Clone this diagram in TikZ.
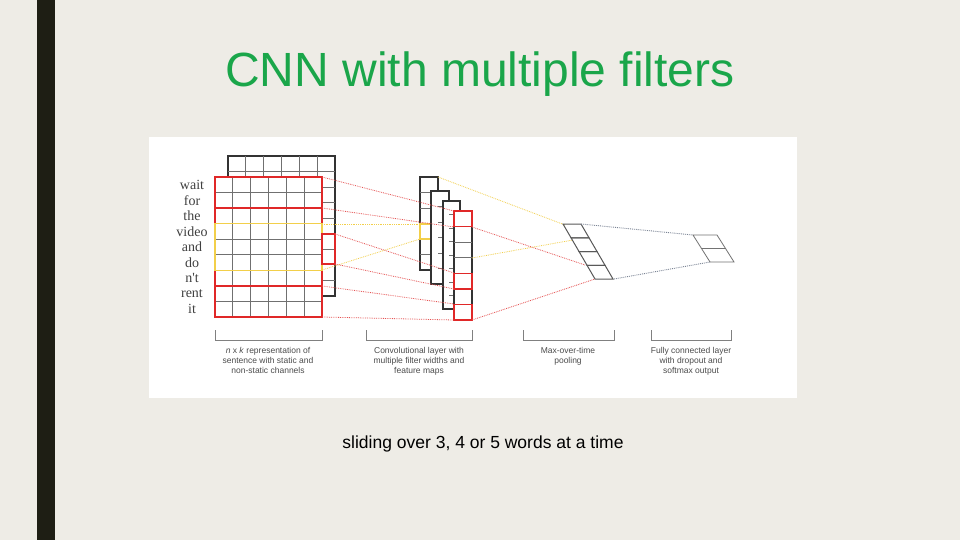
\documentclass[tikz,border=0pt]{standalone}
\usepackage{fontspec}
\setmainfont{Liberation Sans}
\newfontfamily\wordfont{Liberation Serif}
\definecolor{slidebg}{HTML}{EEECE6}
\definecolor{barcol}{HTML}{1E1E14}
\definecolor{titlegreen}{HTML}{1AA64A}
\definecolor{gridgray}{HTML}{707070}
\definecolor{filtred}{HTML}{E02828}
\definecolor{filtyellow}{HTML}{F2CF4A}
\definecolor{fcline}{HTML}{7A8494}
\tikzset{
  cell/.style={draw=gridgray, line width=0.8pt},
  frame/.style={draw=black!80, line width=1.2pt, fill=white},
  redbox/.style={draw=filtred, line width=1.4pt},
  yellowbox/.style={draw=filtyellow, line width=1.4pt},
  reddot/.style={filtred!80, densely dotted, line width=0.8pt},
  yellowdot/.style={filtyellow, densely dotted, line width=0.8pt},
  graydot/.style={fcline, densely dotted, line width=0.9pt},
  bracket/.style={draw=gray, line width=0.9pt},
  caption/.style={text=black!70, font=\fontsize{8.5}{10}\selectfont, align=center, anchor=north},
  word/.style={text=black!75, font=\wordfont\fontsize{14}{14}\selectfont}
}
\begin{document}
\begin{tikzpicture}[x=1pt,y=-1pt]
\useasboundingbox (0,0) rectangle (960,540);

% Slide
\fill[slidebg] (0,0) rectangle (960,540);
\fill[barcol] (37,0) rectangle (55,540);
\node (title) at (480,74) {\fontsize{48}{48}\selectfont\textcolor{titlegreen}{CNN with multiple filters}};
\fill[white] (149,137) rectangle (797,398);

% Back channel
\draw[frame] (228,156) rectangle (335,296);
\foreach \i in {1,...,5} \draw[cell] (228+\i*17.83,156) -- (228+\i*17.83,177);
\foreach \j in {1,...,8} \draw[cell] (322,156+\j*15.55) -- (335,156+\j*15.55);
\draw[cell] (228,171) -- (322,171);

% Front channel
\fill[white] (215,177) rectangle (322,317);
\foreach \i in {1,...,5} \draw[cell] (215+\i*17.83,177) -- (215+\i*17.83,317);
\foreach \j in {1,...,8} \draw[cell] (215,177+\j*15.55) -- (322,177+\j*15.55);
\draw[redbox] (215,177) rectangle (322,317);
\draw[redbox] (215,208.1) -- (322,208.1);
\draw[redbox] (215,286) -- (322,286);
\draw[yellowbox] (215,223.6) rectangle (322,270.3);
\draw[redbox] (322,234) rectangle (335,264);

% Words
\foreach \w [count=\k from 0] in {wait,for,the,video,and,do,n't,rent,it}
  \node[word] (w\k) at (192,184.8+\k*15.55) {\w};

% Feature maps
\draw[frame] (420,177) rectangle (438,270);
\foreach \j in {1,...,5} \draw[cell] (420,177+\j*15.5) -- (438,177+\j*15.5);
\draw[yellowbox] (420,224) rectangle (431,239);
\draw[frame] (431,191) rectangle (449,284);
\foreach \j in {1,...,5} \draw[cell] (438,191+\j*15.5) -- (449,191+\j*15.5);
\draw[frame] (443,201) rectangle (460,309);
\foreach \j in {1,...,7} \draw[cell] (449,201+\j*13.5) -- (460,201+\j*13.5);
\draw[frame] (454,211) rectangle (472,320);
\foreach \j in {1,...,6} \draw[cell] (454,211+\j*15.57) -- (472,211+\j*15.57);
\foreach \j in {0,4,6} \draw[redbox] (454,211+\j*15.57) rectangle (472,226.57+\j*15.57);

% Connector points
\coordinate (mA) at (322,177);  \coordinate (mB) at (322,208);
\coordinate (mC) at (322,224);  \coordinate (mD) at (322,270);
\coordinate (mE) at (335,234);  \coordinate (mF) at (335,264);
\coordinate (mG) at (322,286);  \coordinate (mH) at (322,317);
\coordinate (fA) at (454,211);  \coordinate (fB) at (454,227);
\coordinate (fC) at (420,224);  \coordinate (fD) at (420,239);
\coordinate (fE) at (454,273);  \coordinate (fF) at (454,289);
\coordinate (fG) at (454,304);  \coordinate (fH) at (454,320);
\coordinate (gA) at (438,177);  \coordinate (gB) at (472,227);
\coordinate (gC) at (472,258);  \coordinate (gD) at (472,320);
\coordinate (pA) at (565,225);  \coordinate (pB) at (573,240);
\coordinate (pC) at (585,265);  \coordinate (pD) at (595,279);
\coordinate (pR) at (581,224);  \coordinate (pS) at (614,279);
\coordinate (cA) at (693,235);  \coordinate (cB) at (710,262);

\draw[reddot] (mA) -- (fA);  \draw[reddot] (mB) -- (fB);
\draw[yellowdot] (mC) -- (fC);  \draw[yellowdot] (mD) -- (fD);
\draw[reddot] (mE) -- (fE);  \draw[reddot] (mF) -- (fF);
\draw[reddot] (mG) -- (fG);  \draw[reddot] (mH) -- (fH);
\draw[yellowdot] (gA) -- (pA);  \draw[yellowdot] (gC) -- (pB);
\draw[reddot] (gB) -- (pC);  \draw[reddot] (gD) -- (pD);

% Max-over-time pooling
\foreach \j in {0,...,3}
  \draw[cell, draw=black!65, line width=1pt] (563+\j*8,224+\j*13.75) -- ++(18,0) -- ++(8,13.75) -- ++(-18,0) -- cycle;

% Fully connected layer
\foreach \j in {0,1}
  \draw[cell, draw=black!55] (693+\j*8.5,235+\j*13.5) -- ++(24,0) -- ++(8.5,13.5) -- ++(-24,0) -- cycle;
\draw[graydot] (pR) -- (cA);
\draw[graydot] (pS) -- (cB);

% Brackets and captions
\foreach \a/\b [count=\k] in {215/322,366/472,523/614,651/731}
  \draw[bracket] (\a,330) -- (\a,340) -- (\b,340) -- (\b,330);
\node[caption] (capA) at (268,344) {\textit{n} x \textit{k} representation of\\sentence with static and\\non-static channels};
\node[caption] (capB) at (419,344) {Convolutional layer with\\multiple filter widths and\\feature maps};
\node[caption] (capC) at (568,344) {Max-over-time\\pooling};
\node[caption] (capD) at (691,344) {Fully connected layer\\with dropout and\\softmax output};

% Caption
\node (note) at (483,444) {\fontsize{17.5}{17.5}\selectfont sliding over 3, 4 or 5 words at a time};
\end{tikzpicture}
\end{document}
